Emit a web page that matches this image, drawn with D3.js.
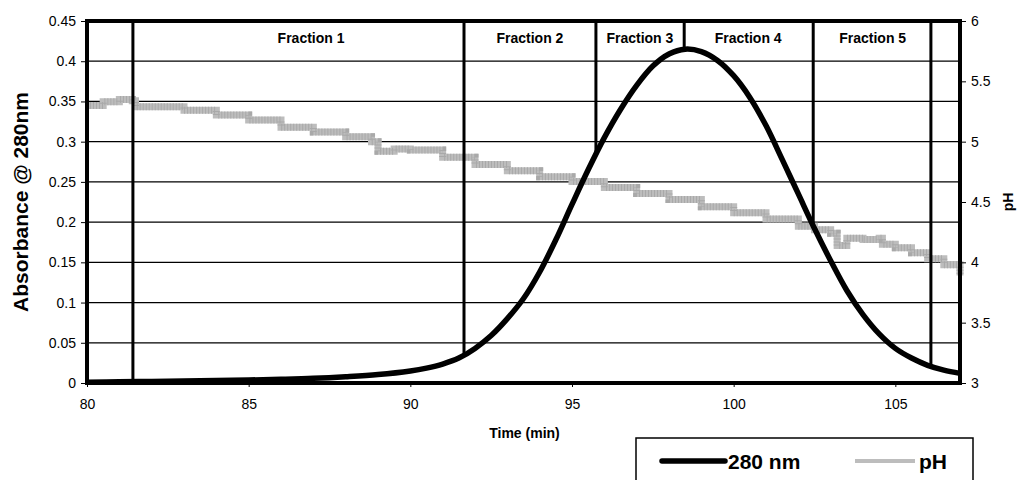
<!DOCTYPE html>
<html>
<head>
<meta charset="utf-8">
<script src="https://cdn.jsdelivr.net/npm/d3@7"></script>
<style>
  html, body { margin: 0; padding: 0; background: #fff; }
  svg { display: block; font-family: "Liberation Sans", Arial, sans-serif; }
</style>
</head>
<body>
<svg id="chart" width="1019" height="480"></svg>
<script>
// ---- data ----
const absTime = [80, 81, 82, 83, 84, 85, 86, 87, 88, 89, 90, 90.5, 91, 91.5, 92, 92.5, 93, 93.5, 94, 94.5, 95, 95.5, 96, 96.5, 97, 97.5, 98, 98.5, 99, 99.5, 100, 100.5, 101, 101.5, 102, 102.5, 103, 103.5, 104, 104.5, 105, 105.5, 106, 106.5, 107];
const absValues = [0.001, 0.0015, 0.002, 0.0025, 0.003, 0.0037, 0.0046, 0.0058, 0.0078, 0.0105, 0.015, 0.0185, 0.0235, 0.031, 0.043, 0.059, 0.08, 0.105, 0.138, 0.178, 0.222, 0.265, 0.305, 0.34, 0.37, 0.394, 0.409, 0.415, 0.412, 0.401, 0.382, 0.355, 0.32, 0.278, 0.235, 0.192, 0.152, 0.115, 0.085, 0.061, 0.043, 0.031, 0.022, 0.016, 0.012];

const phTime = [80, 80.5, 81, 81.4, 81.5, 82, 83, 84, 85, 86, 87, 88, 88.8, 89.0, 89.5, 90, 91, 92, 93, 94, 95, 96, 97, 98, 99, 100, 101, 102, 102.5, 103, 103.2, 103.5, 104, 104.5, 104.6, 105, 105.5, 106, 106.5, 107];
const phValues = [5.30, 5.33, 5.35, 5.34, 5.29, 5.29, 5.26, 5.22, 5.18, 5.12, 5.08, 5.04, 5.00, 4.92, 4.94, 4.93, 4.87, 4.81, 4.76, 4.71, 4.67, 4.62, 4.57, 4.52, 4.46, 4.41, 4.36, 4.30, 4.27, 4.24, 4.14, 4.20, 4.19, 4.20, 4.15, 4.12, 4.08, 4.03, 3.98, 3.89];

const fractionBounds = [81.42, 91.66, 95.74, 98.47, 102.46, 106.1];
const fractionLabels = ["Fraction 1", "Fraction 2", "Fraction 3", "Fraction 4", "Fraction 5"];
const fractionLabelTime = [86.93, 93.7, 97.1, 100.45, 104.3];

const xTicks = [80, 85, 90, 95, 100, 105];
const absTicks = [0, 0.05, 0.1, 0.15, 0.2, 0.25, 0.3, 0.35, 0.4, 0.45];
const absTickLabels = ["0", "0.05", "0.1", "0.15", "0.2", "0.25", "0.3", "0.35", "0.4", "0.45"];
const phTicks = [3, 3.5, 4, 4.5, 5, 5.5, 6];
const phTickLabels = ["3", "3.5", "4", "4.5", "5", "5.5", "6"];

const seriesNames = ["280 nm", "pH"];

// ---- layout ----
const L = 87, R = 960, T = 21, B = 383;
const svg = d3.select("#chart");

const x = d3.scaleLinear().domain([80, 107]).range([L, R]);
const yA = d3.scaleLinear().domain([0, 0.45]).range([B, T]);
const yP = d3.scaleLinear().domain([3, 6]).range([B, T]);

// gridlines
svg.append("g").selectAll("line").data(absTicks.slice(1, -1)).join("line")
  .attr("x1", L).attr("x2", R)
  .attr("y1", d => yA(d)).attr("y2", d => yA(d))
  .attr("stroke", "#000").attr("stroke-width", 1.2);

// pH line
const phData = phTime.map((t, i) => [t, phValues[i]]);
const phLine = d3.line().x(d => x(d[0])).y(d => yP(d[1])).curve(d3.curveStepAfter);
svg.append("path").datum(phData).attr("d", phLine)
  .attr("fill", "none").attr("stroke", "#bdbdbd").attr("stroke-width", 7);
svg.append("path").datum(phData).attr("d", phLine)
  .attr("fill", "none").attr("stroke", "#a9a9a9").attr("stroke-width", 7)
  .attr("stroke-dasharray", "1,2");

// absorbance
const absData = absTime.map((t, i) => [t, absValues[i]]);
const absLine = d3.line().x(d => x(d[0])).y(d => yA(d[1])).curve(d3.curveCatmullRom.alpha(0.5));
svg.append("path").datum(absData).attr("d", absLine)
  .attr("fill", "none").attr("stroke", "#000").attr("stroke-width", 5.5)
  .attr("stroke-linejoin", "round");

// fraction drop lines
function absAt(t) {
  const i = d3.bisectLeft(absTime, t);
  if (i <= 0) return absValues[0];
  if (i >= absTime.length) return absValues[absValues.length - 1];
  const t0 = absTime[i - 1], t1 = absTime[i];
  const f = (t - t0) / (t1 - t0);
  return absValues[i - 1] + f * (absValues[i] - absValues[i - 1]);
}
svg.append("g").selectAll("line").data(fractionBounds).join("line")
  .attr("x1", d => x(d)).attr("x2", d => x(d))
  .attr("y1", T).attr("y2", d => yA(absAt(d)))
  .attr("stroke", "#000").attr("stroke-width", 3);

svg.append("g").selectAll("text").data(fractionLabels).join("text")
  .attr("x", (d, i) => x(fractionLabelTime[i])).attr("y", 43)
  .attr("text-anchor", "middle").attr("font-size", 14).attr("font-weight", "bold")
  .text(d => d);

// axes
const gl = svg.append("g").attr("transform", `translate(${L},0)`)
  .call(d3.axisLeft(yA).tickValues(absTicks).tickFormat((d, i) => absTickLabels[i]).tickSize(6).tickPadding(5));
const gr = svg.append("g").attr("transform", `translate(${R},0)`)
  .call(d3.axisRight(yP).tickValues(phTicks).tickFormat((d, i) => phTickLabels[i]).tickSize(6).tickPadding(5));
const gb = svg.append("g").attr("transform", `translate(0,${B})`)
  .call(d3.axisBottom(x).tickValues(xTicks).tickFormat((d, i) => String(xTicks[i])).tickSize(4).tickPadding(12));
[gl, gr, gb].forEach(g => {
  g.select(".domain").remove();
  g.selectAll("text").attr("font-size", 14).attr("fill", "#000")
    .attr("font-family", "'Liberation Sans', Arial, sans-serif");
  g.selectAll("line").attr("stroke", "#000");
});

// plot border
svg.append("rect").attr("x", L).attr("y", T).attr("width", R - L).attr("height", B - T)
  .attr("fill", "none").attr("stroke", "#000").attr("stroke-width", 4);

// axis titles
svg.append("text").attr("transform", `translate(28,${(T + B) / 2}) rotate(-90)`)
  .attr("text-anchor", "middle").attr("font-size", 21).attr("font-weight", "bold")
  .text("Absorbance @ 280nm");
svg.append("text").attr("transform", `translate(1013,${(T + B) / 2}) rotate(-90)`)
  .attr("text-anchor", "middle").attr("font-size", 14).attr("font-weight", "bold")
  .text("pH");
svg.append("text").attr("x", (L + R) / 2 + 1).attr("y", 438)
  .attr("text-anchor", "middle").attr("font-size", 14).attr("font-weight", "bold")
  .text("Time (min)");

// legend
const lg = svg.append("g");
lg.append("rect").attr("x", 636).attr("y", 438).attr("width", 337).attr("height", 60)
  .attr("fill", "#fff").attr("stroke", "#000").attr("stroke-width", 1.5);
lg.append("line").attr("x1", 662).attr("x2", 725).attr("y1", 461).attr("y2", 461)
  .attr("stroke", "#000").attr("stroke-width", 5.5).attr("stroke-linecap", "round");
lg.append("text").attr("x", 728).attr("y", 469).attr("font-size", 21).attr("font-weight", "bold").text(seriesNames[0]);
lg.append("line").attr("x1", 855).attr("x2", 915).attr("y1", 461).attr("y2", 461)
  .attr("stroke", "#bdbdbd").attr("stroke-width", 4);
lg.append("text").attr("x", 919).attr("y", 469).attr("font-size", 21).attr("font-weight", "bold").text(seriesNames[1]);
</script>
</body>
</html>
